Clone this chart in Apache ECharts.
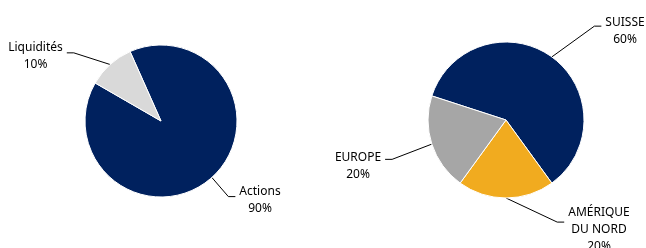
<!DOCTYPE html>
<html>
<head>
<meta charset="utf-8">
<script src="https://cdn.jsdelivr.net/npm/echarts@6/dist/echarts.min.js"></script>
<style>
  html, body { margin: 0; padding: 0; background: #fff; }
  #chart { width: 646px; height: 248px; }
</style>
</head>
<body>
<div id="chart"></div>
<script>
// left pie: asset classes
const assetNames = ['Actions', 'Liquidités'];
const assetValues = [90, 10];
const assetColors = ['#00215E', '#D9D9D9'];

// right pie: regions
const regionNames = ['SUISSE', 'AMÉRIQUE\nDU NORD', 'EUROPE'];
const regionValues = [60, 20, 20];
const regionColors = ['#00215E', '#F1AB1F', '#A6A6A6'];

// label placement: [x centre, y of first text line] and how far below
// that first line the leader line meets the label (px)
const assetLabelPos = [[260, 192], [35.5, 47.5]];
const assetLineOffset = [3.7, 5.2];
const regionLabelPos = [[625, 22.5], [599, 212.5], [358, 157.5]];
const regionLineOffset = [1.8, 5.2, -1.8];

const LINE_H = 17;

function toItems(names, values, colors) {
  return names.map((n, i) => ({ name: n, value: values[i], itemStyle: { color: colors[i] } }));
}

function pieSeries(center, radius, startAngle, names, values, colors, labelPos, lineOffset) {
  // an empty spacer line on top shifts the block middle (where the leader
  // line attaches) up to the first text line
  const rich = {
    t: { fontFamily: 'Noto Sans', fontSize: 12, lineHeight: LINE_H, color: '#000', align: 'center', padding: [0, 4] }
  };
  names.forEach((n, i) => {
    const nLines = n.split('\n').length + 1;
    rich['g' + i] = { fontSize: 1, lineHeight: LINE_H * (nLines - 1) - 2 * lineOffset[i], align: 'center' };
  });
  return {
    type: 'pie',
    center: center,
    radius: radius,
    startAngle: startAngle,
    clockwise: true,
    avoidLabelOverlap: false,
    silent: true,
    itemStyle: { borderColor: '#fff', borderWidth: 1 },
    label: {
      show: true,
      position: 'outside',
      formatter: function (p) {
        const lines = p.name.split('\n').concat(p.value + '%');
        return '{g' + p.dataIndex + '| }\n' + lines.map(s => '{t|' + s + '}').join('\n');
      },
      rich: rich
    },
    labelLine: {
      show: true,
      length: 10,
      length2: 7,
      lineStyle: { color: '#000', width: 1 }
    },
    labelLayout: function (p) {
      const pos = labelPos[p.dataIndex];
      return {
        x: pos[0],
        y: pos[1] + lineOffset[p.dataIndex],
        align: 'center',
        verticalAlign: 'middle'
      };
    },
    data: toItems(names, values, colors)
  };
}

const chart = echarts.init(document.getElementById('chart'));
chart.setOption({
  animation: false,
  series: [
    pieSeries([161, 121], 76, 114, assetNames, assetValues, assetColors, assetLabelPos, assetLineOffset),
    pieSeries([506, 120], 78, 162, regionNames, regionValues, regionColors, regionLabelPos, regionLineOffset)
  ]
});
</script>
</body>
</html>
